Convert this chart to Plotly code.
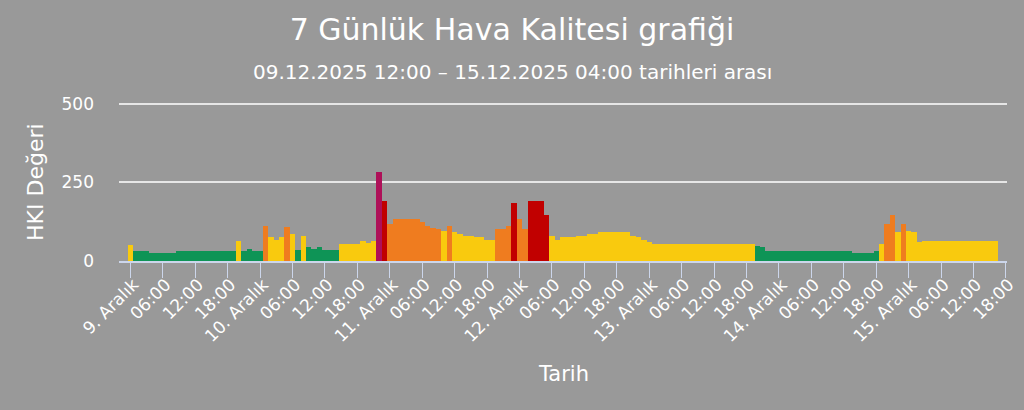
import plotly.graph_objects as go
import pandas as pd

# ---------------- data ----------------
start_time = "2025-12-09 00:00"

# hourly HKI values (from 9 Dec 00:00)
hki_values = [
    # 9 Dec
    52, 31, 31, 31, 24, 24, 24, 24, 24, 31, 31, 31,
    31, 31, 31, 31, 31, 31, 31, 31, 63, 31, 37, 31,
    # 10 Dec
    31, 112, 75, 68, 75, 107, 86, 36, 79, 43, 38, 43,
    36, 36, 36, 53, 53, 53, 53, 63, 58, 63, 284, 190,
    # 11 Dec
    118, 134, 134, 134, 134, 134, 125, 112, 106, 101, 96, 112,
    91, 86, 79, 79, 75, 75, 68, 68, 102, 102, 112, 185,
    # 12 Dec
    134, 102, 190, 190, 190, 145, 79, 68, 75, 75, 75, 79,
    79, 86, 86, 91, 91, 91, 91, 91, 91, 79, 75, 68,
    # 13 Dec
    61, 53, 53, 53, 53, 53, 53, 53, 53, 53, 53, 53,
    53, 53, 53, 53, 53, 53, 53, 53, 47, 43, 31, 31,
    # 14 Dec
    31, 31, 31, 31, 31, 31, 31, 31, 31, 31, 31, 31,
    31, 31, 24, 24, 24, 24, 31, 53, 118, 146, 91, 118,
    # 15 Dec
    96, 91, 59, 63, 63, 63, 63, 63, 63, 63, 63, 63,
    63, 63, 63, 63, 63,
]

# category per bar: G=İyi, Y=Orta, O=Hassas, R=Sağlıksız, C=Kötü
hki_levels = [
    # 9 Dec
    "Y", "G", "G", "G", "G", "G", "G", "G", "G", "G", "G", "G",
    "G", "G", "G", "G", "G", "G", "G", "G", "Y", "G", "G", "G",
    # 10 Dec
    "G", "O", "Y", "Y", "Y", "O", "Y", "G", "Y", "G", "G", "G",
    "G", "G", "G", "Y", "Y", "Y", "Y", "Y", "Y", "Y", "C", "R",
    # 11 Dec
    "O", "O", "O", "O", "O", "O", "O", "O", "O", "O", "Y", "O",
    "Y", "Y", "Y", "Y", "Y", "Y", "Y", "Y", "O", "O", "O", "R",
    # 12 Dec
    "O", "O", "R", "R", "R", "R", "Y", "Y", "Y", "Y", "Y", "Y",
    "Y", "Y", "Y", "Y", "Y", "Y", "Y", "Y", "Y", "Y", "Y", "Y",
    # 13 Dec
    "Y", "Y", "Y", "Y", "Y", "Y", "Y", "Y", "Y", "Y", "Y", "Y",
    "Y", "Y", "Y", "Y", "Y", "Y", "Y", "Y", "G", "G", "G", "G",
    # 14 Dec
    "G", "G", "G", "G", "G", "G", "G", "G", "G", "G", "G", "G",
    "G", "G", "G", "G", "G", "G", "G", "Y", "O", "O", "Y", "O",
    # 15 Dec
    "Y", "Y", "Y", "Y", "Y", "Y", "Y", "Y", "Y", "Y", "Y", "Y",
    "Y", "Y", "Y", "Y", "Y",
]

level_colors = {
    "G": "#0e9456",
    "Y": "#f9ca0e",
    "O": "#ef7c1f",
    "R": "#c10000",
    "C": "#ae1058",
}

tick_times = pd.date_range("2025-12-09 00:00", "2025-12-15 18:00", freq="6h")
tick_labels = [
    "9. Aralık", "06:00", "12:00", "18:00",
    "10. Aralık", "06:00", "12:00", "18:00",
    "11. Aralık", "06:00", "12:00", "18:00",
    "12. Aralık", "06:00", "12:00", "18:00",
    "13. Aralık", "06:00", "12:00", "18:00",
    "14. Aralık", "06:00", "12:00", "18:00",
    "15. Aralık", "06:00", "12:00", "18:00",
]
y_ticks = [0, 250, 500]

x_range = ["2025-12-08 21:53", "2025-12-15 18:12"]
y_range = [0, 505]

# ---------------- figure ----------------
times = pd.date_range(start_time, periods=len(hki_values), freq="h")
colors = [level_colors[l] for l in hki_levels]

FONT = "DejaVu Sans, Verdana, sans-serif"
TXT = "#ffffff"

fig = go.Figure(
    go.Bar(
        x=times,
        y=hki_values,
        width=3600 * 1000,
        marker=dict(color=colors, line=dict(width=0)),
        showlegend=False,
    )
)

fig.update_layout(
    width=1024,
    height=410,
    paper_bgcolor="#999999",
    plot_bgcolor="#999999",
    margin=dict(l=119, r=17, t=102, b=149, autoexpand=False),
    bargap=0,
    font=dict(family=FONT, color=TXT),
    title=dict(
        text="7 Günlük Hava Kalitesi grafiği",
        x=0.5,
        xanchor="center",
        y=1 - 29 / 410,
        yref="container",
        yanchor="middle",
        font=dict(size=30, color=TXT, family=FONT),
    ),
)

# plot area in pixels: x 119..1007, y 102..261
PL, PW, PB, PH = 119, 888, 261, 159

fig.add_annotation(
    text="09.12.2025 12:00 – 15.12.2025 04:00 tarihleri arası",
    xref="paper", yref="paper",
    x=(512 - PL) / PW, y=(PB - 72) / PH,
    xanchor="center", yanchor="middle",
    showarrow=False,
    font=dict(size=20, color=TXT, family=FONT),
)
fig.add_annotation(
    text="HKI Değeri",
    xref="paper", yref="paper",
    x=(35 - PL) / PW, y=(PB - 182) / PH,
    xanchor="center", yanchor="middle",
    textangle=-90,
    showarrow=False,
    font=dict(size=22, color=TXT, family=FONT),
)
fig.add_annotation(
    text="Tarih",
    xref="paper", yref="paper",
    x=(563 - PL) / PW, y=(PB - 374) / PH,
    xanchor="center", yanchor="middle",
    showarrow=False,
    font=dict(size=21, color=TXT, family=FONT),
)

fig.update_xaxes(
    type="date",
    range=x_range,
    automargin=False,
    tickmode="array",
    tickvals=tick_times,
    ticktext=tick_labels,
    tickangle=-45,
    ticks="outside",
    ticklen=15,
    tickwidth=1.3,
    tickcolor="#ccd6eb",
    ticklabelstandoff=-10,
    ticklabelshift=3,
    showline=True,
    linecolor="#ccd6eb",
    linewidth=2,
    showgrid=False,
    zeroline=False,
    tickfont=dict(size=17, color=TXT, family=FONT),
    fixedrange=True,
)
fig.update_yaxes(
    range=y_range,
    automargin=False,
    tickmode="array",
    tickvals=y_ticks,
    ticks="",
    ticklabelstandoff=24,
    showgrid=True,
    gridcolor="#e6e6e6",
    gridwidth=2,
    zeroline=False,
    showline=False,
    tickfont=dict(size=17, color=TXT, family=FONT),
    fixedrange=True,
)

fig.write_html(
    "out.html",
    config={"displayModeBar": False},
    post_script="document.body.style.margin='0';document.body.style.overflow='hidden';",
)
